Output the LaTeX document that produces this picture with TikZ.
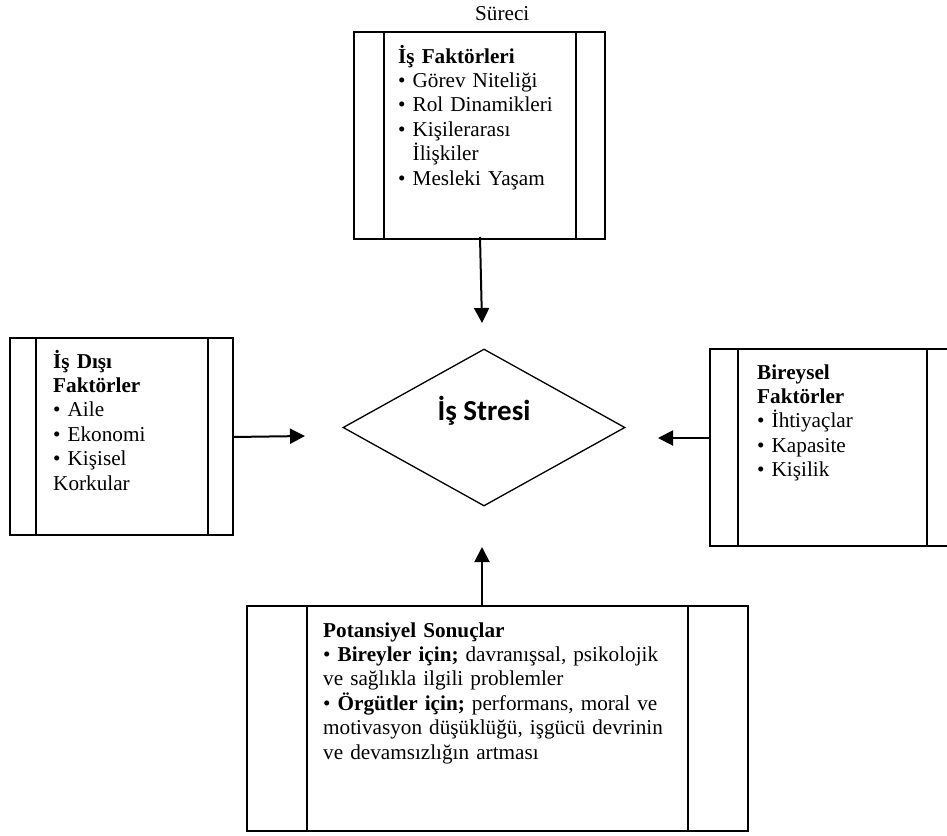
\documentclass[tikz,border=0pt]{standalone}
\usepackage{fontspec}
\setmainfont{Liberation Serif}
\newfontfamily\calib{Carlito}
\usetikzlibrary{shapes.geometric,arrows.meta}
\tikzset{
  boxrect/.style={draw=black, line width=1.6pt, rectangle, inner sep=0pt},
  innerline/.style={draw=black, line width=1.6pt},
  txt/.style={anchor=base west, inner sep=0pt, text width=430pt, align=left,
    font=\fontsize{21.2}{24.4}\selectfont},
  conn/.style={line width=2pt, -{Triangle[length=15pt,width=15pt]}},
  dia/.style={draw=black, line width=1.3pt, diamond, inner sep=0pt,
    minimum width=282pt, minimum height=157pt}
}
\begin{document}
\begin{tikzpicture}[x=1pt,y=-1pt]
\useasboundingbox (0,0) rectangle (947,835);
\fill[white] (0,0) rectangle (947,835);
\clip (0,0) rectangle (947,835);

% top box
\node[boxrect, minimum width=251pt, minimum height=207pt] (topbox) at (479.5,135.5) {};
\draw[innerline] ([xshift=31pt]topbox.north west) -- ([xshift=31pt]topbox.south west);
\draw[innerline] ([xshift=-30pt]topbox.north east) -- ([xshift=-30pt]topbox.south east);
\node[anchor=base west, inner sep=0pt, font=\fontsize{21.2}{24.4}\selectfont] (sureci) at (475,20.5) {Süreci};
\node[txt] (toptxt) at (398,63) {\textbf{İş Faktörleri}\\
• Görev Niteliği\\
• Rol Dinamikleri\\
• Kişilerarası\\
\phantom{• }İlişkiler\\
• Mesleki Yaşam};

% left box
\node[boxrect, minimum width=223pt, minimum height=197pt] (leftbox) at (121.5,436.5) {};
\draw[innerline] ([xshift=27pt]leftbox.north west) -- ([xshift=27pt]leftbox.south west);
\draw[innerline] ([xshift=-26pt]leftbox.north east) -- ([xshift=-26pt]leftbox.south east);
\node[txt] (lefttxt) at (53,368) {\textbf{İş Dışı}\\
\textbf{Faktörler}\\
• Aile\\
• Ekonomi\\
• Kişisel\\
Korkular};

% right box
\node[boxrect, minimum width=248pt, minimum height=197pt] (rightbox) at (834,447.5) {};
\draw[innerline] ([xshift=29pt]rightbox.north west) -- ([xshift=29pt]rightbox.south west);
\draw[innerline] ([xshift=-32pt]rightbox.north east) -- ([xshift=-32pt]rightbox.south east);
\node[txt] (righttxt) at (757,379) {\textbf{Bireysel}\\
\textbf{Faktörler}\\
• İhtiyaçlar\\
• Kapasite\\
• Kişilik};

% bottom box
\node[boxrect, minimum width=501pt, minimum height=225pt] (botbox) at (497.5,718.5) {};
\draw[innerline] ([xshift=61pt]botbox.north west) -- ([xshift=61pt]botbox.south west);
\draw[innerline] ([xshift=-61pt]botbox.north east) -- ([xshift=-61pt]botbox.south east);
\node[txt] (bottxt) at (323,637) {\textbf{Potansiyel Sonuçlar}\\
• \textbf{Bireyler için;} davranışsal, psikolojik\\
ve sağlıkla ilgili problemler\\
• \textbf{Örgütler için;} performans, moral ve\\
motivasyon düşüklüğü, işgücü devrinin\\
ve devamsızlığın artması};

% diamond
\node[dia] (stres) at (484,427.5) {};
\node[anchor=base, inner sep=0pt, font=\calib\fontsize{29}{34}\selectfont\bfseries] (strestxt) at (484,420) {İş Stresi};

% connectors
\coordinate (t1) at (480,237);
\coordinate (t2) at (482,323);
\coordinate (l1) at (233,437);
\coordinate (l2) at (305,436);
\coordinate (r1) at (710,438);
\coordinate (r2) at (658,438);
\coordinate (b1) at (482,606);
\coordinate (b2) at (482,547);
\draw[conn] (t1) -- (t2);
\draw[conn] (l1) -- (l2);
\draw[conn] (r1) -- (r2);
\draw[conn] (b1) -- (b2);
\end{tikzpicture}
\end{document}
